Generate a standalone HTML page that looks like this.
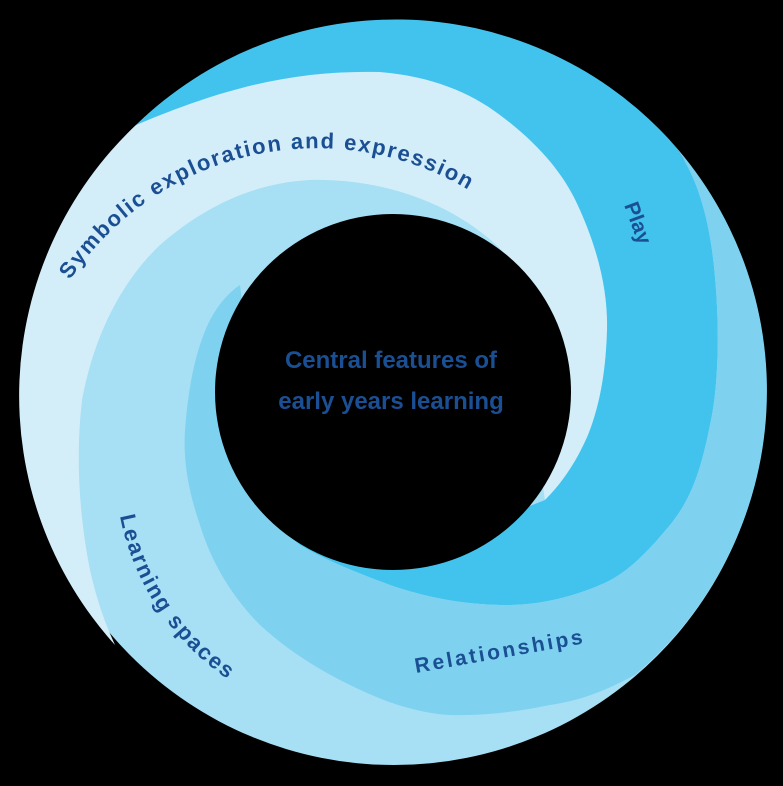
<!DOCTYPE html>
<html><head><meta charset="utf-8"><style>html,body{margin:0;padding:0;background:#000;}svg{display:block}</style></head>
<body>
<svg width="783" height="786" viewBox="0 0 783 786" xmlns="http://www.w3.org/2000/svg">
<rect width="783" height="786" fill="#000"/>
<circle cx="394" cy="393" r="372" fill="#A7DFF4"/>
<!-- Symbolic -->
<path d="M115,645 A372 372 0 0 1 136,125 C230,85 300,70 380,72 C430,76 470,92 500,115 C540,145 565,175 580,210 C600,255 608,295 607,330 C606,370 600,405 588,435 C575,465 560,485 545,500 L507,256 C470,215 400,178 310,180 C250,183 200,210 160,245 C125,278 95,330 82,400 C75,460 80,520 90,570 C98,605 106,625 115,645 Z" fill="#D4EEF9"/>
<!-- Play -->
<path d="M136,125 A372 372 0 0 1 665,135 C690,160 705,200 712,250 C720,310 720,380 710,425 C700,475 690,500 670,525 C645,555 625,575 600,585 C570,598 535,606 500,605 C460,604 425,597 390,585 C355,572 325,560 300,545 L267,518 L393,560 L545,500 C560,485 575,465 588,435 C600,405 606,370 607,330 C608,295 600,255 580,210 C565,175 540,145 500,115 C470,92 430,76 380,72 C300,70 230,85 136,125 Z" fill="#42C3EE"/>
<!-- Relationships -->
<path d="M665,135 A372 372 0 0 1 635,675 C610,688 585,700 550,705 C515,712 485,716 450,715 C415,713 380,700 350,685 C315,668 285,648 260,625 C235,600 212,565 200,525 C188,490 183,460 185,430 C188,390 195,350 210,320 C218,305 228,293 240,285 L267,518 L300,545 C325,560 355,572 390,585 C425,597 460,604 500,605 C535,606 570,598 600,585 C625,575 645,555 670,525 C690,500 700,475 710,425 C720,380 720,310 712,250 C705,200 690,160 665,135 Z" fill="#7ED2EF"/>
<circle cx="393" cy="392" r="178" fill="#000"/>
<defs>
<path id="p1" d="M70,280 A297 297 0 0 1 596,344"/>
<path id="p2" d="M120,516 A257 257 0 0 0 276,705"/>
</defs>
<g font-family="Liberation Sans, sans-serif" font-weight="bold" fill="#1B4F93">
<text font-size="22"><textPath href="#p1" textLength="450" lengthAdjust="spacing">Symbolic exploration and expression</textPath></text>
<text font-size="22"><textPath href="#p2" textLength="200" lengthAdjust="spacing">Learning spaces</textPath></text>
<text font-size="21" transform="translate(624,205) rotate(70)">Play</text>
<text font-size="21" transform="translate(416,673) rotate(-10)" textLength="170" lengthAdjust="spacing">Relationships</text>
<text font-size="24" x="391" y="368" text-anchor="middle">Central features of</text>
<text font-size="24" x="391" y="409" text-anchor="middle">early years learning</text>
</g>
</svg>
</body></html>
